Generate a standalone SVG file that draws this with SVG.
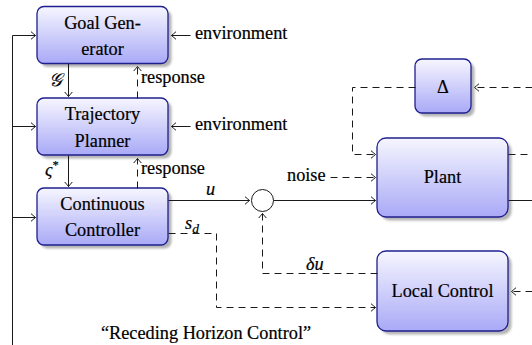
<svg xmlns="http://www.w3.org/2000/svg" width="532" height="345" viewBox="0 0 532 345">
<defs>
<linearGradient id="g" x1="0" y1="0" x2="0" y2="1">
<stop offset="0" stop-color="#f6f6ff"/>
<stop offset="1" stop-color="#a9a9f7"/>
</linearGradient>
<filter id="blur" x="-10%" y="-10%" width="120%" height="120%"><feGaussianBlur stdDeviation="1"/></filter>
<marker id="ar" markerUnits="userSpaceOnUse" viewBox="-6 -5 8 10" refX="0" refY="0" markerWidth="8" markerHeight="10" orient="auto">
<path d="M -4.5 -3.8 Q -1.2 -1 0 0 Q -1.2 1 -4.5 3.8" fill="none" stroke="#1a1a1a" stroke-width="1"/>
</marker>
<style>
.box{fill:url(#g);stroke:#1f1f8f;stroke-width:1.3}
.sh{fill:#b4b4b4;filter:url(#blur)}
.c{text-anchor:middle}
.m{font-style:italic}
.ln{fill:none;stroke:#1a1a1a;stroke-width:1}
.d{stroke-dasharray:7 5}
.a{marker-end:url(#ar)}
text{stroke:#000;stroke-width:0.2}
</style>
</defs>

<g font-family="Liberation Serif, Times New Roman, DejaVu Serif, serif" font-size="18.3" fill="#000">
<g id="goal">
<rect class="sh" x="40.5" y="10" width="131" height="57" rx="7"/>
<rect class="box" x="37" y="6.5" width="131" height="57" rx="7"/>
<text class="c" x="102.5" y="29">Goal Gen-</text>
<text class="c" x="102.5" y="55">erator</text>
</g>
<g id="planner">
<rect class="sh" x="40.5" y="101.5" width="131" height="57" rx="7"/>
<rect class="box" x="37" y="98" width="131" height="57" rx="7"/>
<text class="c" x="102.5" y="120">Trajectory</text>
<text class="c" x="102.5" y="147">Planner</text>
</g>
<g id="controller">
<rect class="sh" x="40.5" y="191.5" width="131" height="57" rx="7"/>
<rect class="box" x="37" y="188" width="131" height="57" rx="7"/>
<text class="c" x="102.5" y="210">Continuous</text>
<text class="c" x="102.5" y="236">Controller</text>
</g>
<g id="delta">
<rect class="sh" x="418.5" y="62.5" width="56" height="54" rx="7"/>
<rect class="box" x="415" y="59" width="56" height="54" rx="7"/>
<text class="c" x="443" y="93">Δ</text>
</g>
<g id="plant">
<rect class="sh" x="380.5" y="141.5" width="131" height="79" rx="9"/>
<rect class="box" x="377" y="138" width="131" height="79" rx="9"/>
<text class="c" x="442.5" y="183">Plant</text>
</g>
<g id="local">
<rect class="sh" x="380.5" y="254.5" width="131" height="80" rx="9"/>
<rect class="box" x="377" y="251" width="131" height="80" rx="9"/>
<text class="c" x="442.5" y="297">Local Control</text>
</g>
<g id="sum">
<circle cx="262.5" cy="200.5" r="11" fill="#fff" stroke="#1a1a1a" stroke-width="1"/>
</g>

<g id="connectors" transform="translate(0.5,0.5)">
<path class="ln" d="M12 345 V35"/>
<path class="ln a" d="M12 35 H35"/>
<path class="ln a" d="M12 126 H35"/>
<path class="ln a" d="M12 217 H35"/>
<path class="ln a" d="M190 35 H171"/>
<path class="ln a" d="M190 126 H171"/>
<path class="ln a" d="M68 63 V96"/>
<path class="ln a" d="M68 155 V186"/>
<path class="ln d a" d="M137 98 V66"/>
<path class="ln d a" d="M137 188 V158"/>
<path class="ln a" d="M168 200 H249"/>
<path class="ln a" d="M273 200 H375"/>
<path class="ln d a" d="M168 233 H216 V307 H375"/>
<path class="ln d a" d="M377 273 H262 V213"/>
<path class="ln d a" d="M415 87 H352 V154 H375"/>
<path class="ln d a" d="M330 177 H375"/>
<path class="ln d a" d="M532 87 H474"/>
<path class="ln d" d="M508 154 H532"/>
<path class="ln" d="M508 200 H532"/>
<path class="ln d a" d="M532 291 H511"/>
</g>

<g id="labels">
<text x="195" y="39">environment</text>
<text x="195" y="130">environment</text>
<text x="141" y="83">response</text>
<text x="141" y="174">response</text>
<text class="m" x="49" y="86">𝒢</text>
<text class="m" x="45" y="176">ς<tspan dy="-7" font-size="12.5" font-style="normal">*</tspan></text>
<text class="m" x="206" y="195">u</text>
<text class="m" x="185" y="229">s<tspan dy="4" font-size="13.5">d</tspan></text>
<text class="m" x="306" y="270">δu</text>
<text x="287" y="181">noise</text>
<text class="c" x="206" y="339">“Receding Horizon Control”</text>
</g>
</g>
</svg>
